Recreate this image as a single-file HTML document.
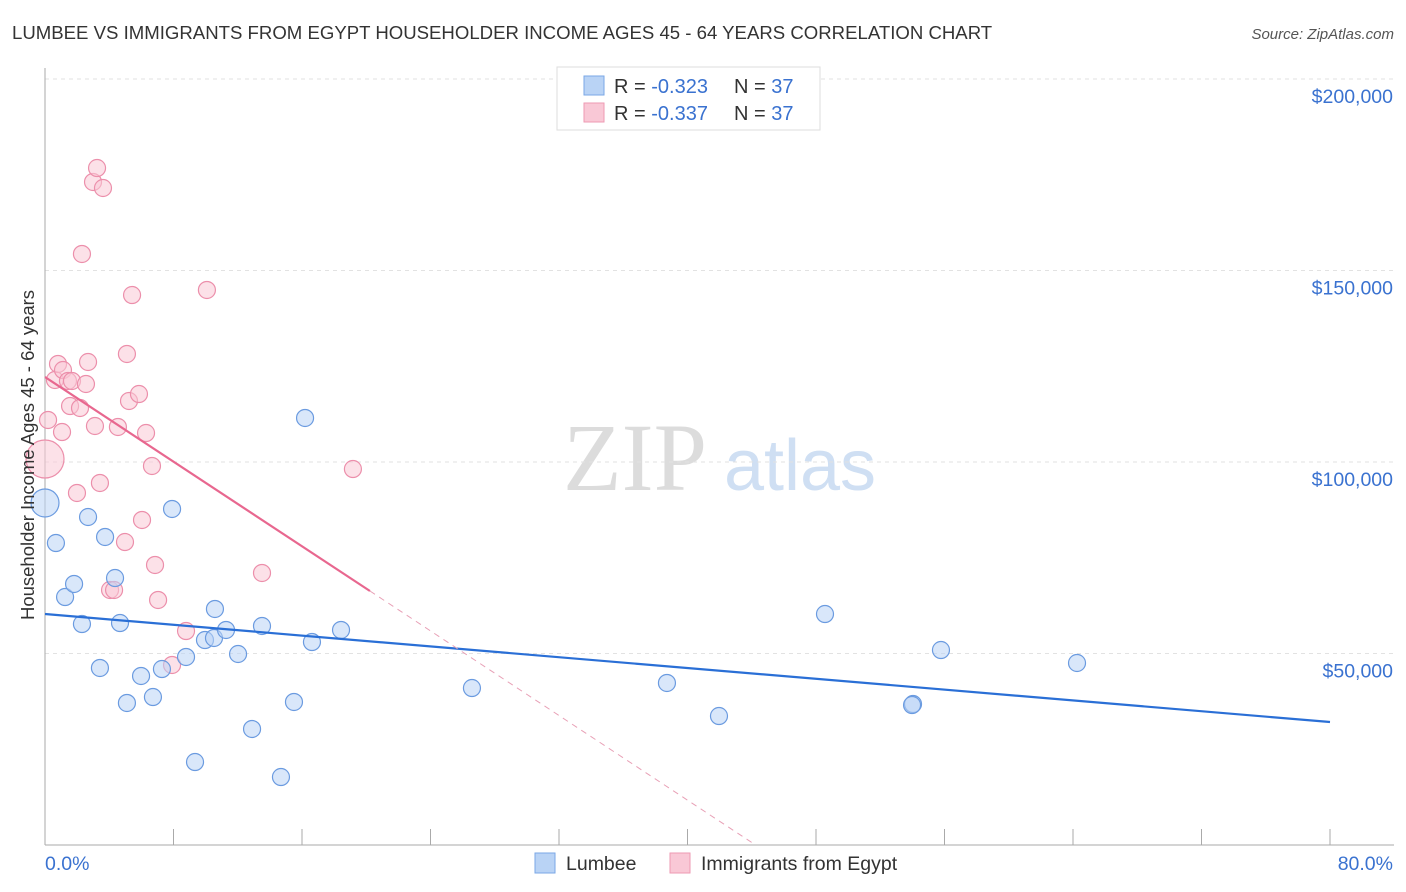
<!DOCTYPE html>
<html><head><meta charset="utf-8"><style>
body{margin:0;background:#fff;font-family:"Liberation Sans",sans-serif}
svg{display:block}
</style></head><body>
<svg id="chart" width="1406" height="892" xmlns="http://www.w3.org/2000/svg">
<text x="12" y="39" font-size="18.6" fill="#333">LUMBEE VS IMMIGRANTS FROM EGYPT HOUSEHOLDER INCOME AGES 45 - 64 YEARS CORRELATION CHART</text>
<text x="1394" y="39" font-size="15" fill="#555" text-anchor="end" font-style="italic">Source: ZipAtlas.com</text>
<g>
<text x="635" y="490" font-size="96" fill="#dcdcdc" text-anchor="middle" font-family="Liberation Serif, serif">ZIP</text>
<text x="800" y="490" font-size="72" fill="#cfdff3" text-anchor="middle">atlas</text>
</g>
<g id="grid"></g>
<g id="axes"></g>
<g id="marks"></g>
<text transform="translate(34,455) rotate(-90)" font-size="18.5" fill="#333" text-anchor="middle">Householder Income Ages 45 - 64 years</text>
<g>
<rect x="557" y="67" width="263" height="63" fill="#fff" stroke="#ddd"/>
<rect x="584" y="76" width="20" height="19" fill="#b9d3f5" stroke="#7aa7e6"/>
<rect x="584" y="103" width="20" height="19" fill="#f9c8d6" stroke="#ee9ab3"/>
<text x="614" y="93" font-size="20" fill="#333">R = <tspan fill="#3a72d0">-0.323</tspan></text>
<text x="734" y="93" font-size="20" fill="#333">N = <tspan fill="#3a72d0">37</tspan></text>
<text x="614" y="120" font-size="20" fill="#333">R = <tspan fill="#3a72d0">-0.337</tspan></text>
<text x="734" y="120" font-size="20" fill="#333">N = <tspan fill="#3a72d0">37</tspan></text>
</g>
<g>
<rect x="535" y="853" width="20" height="20" fill="#b9d3f5" stroke="#7aa7e6"/>
<text x="566" y="870" font-size="19.5" fill="#333">Lumbee</text>
<rect x="670" y="853" width="20" height="20" fill="#f9c8d6" stroke="#ee9ab3"/>
<text x="701" y="870" font-size="19.5" fill="#333">Immigrants from Egypt</text>
</g>
</svg>
<script>
const xTicks=[0,8,16,24,32,40,48,56,64,72,80];
const yTicks=[50000,100000,150000,200000];
const yTickLabels=["$50,000","$100,000","$150,000","$200,000"];
const blueX=[0,0.68,1.25,1.81,2.30,2.68,3.42,3.74,4.36,4.67,5.10,5.98,6.72,7.28,7.91,8.78,9.34,9.96,10.58,10.52,11.27,12.02,12.89,13.51,14.69,15.50,16.19,16.62,18.43,26.58,38.72,41.96,48.56,54.04,53.98,55.78,64.25];
const blueY=[89300,78850,64750,68150,57700,85640,46220,80420,69710,57960,37080,44130,38640,45950,87730,49090,21670,53520,61620,54050,56140,49870,30290,57180,17750,37340,111490,53000,56140,40990,42300,33680,60310,36810,36550,50910,47520];
const pinkX=[0,0.19,0.62,0.81,1.06,1.12,1.43,1.56,1.68,1.99,2.18,2.55,2.68,2.99,3.11,3.24,3.42,3.61,2.30,4.05,4.30,4.54,4.98,5.10,5.23,5.42,5.85,6.04,6.29,6.66,6.85,7.04,7.91,8.78,10.08,13.51,19.17];
const pinkY=[100780,110970,121410,125590,107830,124020,121150,114620,121150,91910,114100,120370,126110,173110,109400,176760,94520,171540,154310,66580,66580,109140,79110,128200,115930,143600,117750,84860,107570,98960,73110,63970,47000,55870,144910,71020,98170];
const blueTrend=[60310,32110];
const pinkTrend=[122190,-2762];
const NS="http://www.w3.org/2000/svg";
const X=v=>45+v*1285/80;
const Y=v=>845-v*191.5/50000;
function mk(parent,tag,attrs){const e=document.createElementNS(NS,tag);for(const k in attrs)e.setAttribute(k,attrs[k]);document.getElementById(parent).appendChild(e);return e;}
yTicks.forEach((t,i)=>{
 const g=mk('grid','line',{x1:45,x2:1394,y1:Y(t),y2:Y(t),stroke:'#e2e2e2','stroke-dasharray':'4,4'});
 
 
 const l=mk('axes','text',{x:1393,y:Y(t)+24,'font-size':19.5,fill:'#3a72d0','text-anchor':'end'});
 l.textContent=yTickLabels[i];
 
 
});
let a=mk('axes','line',{x1:45,x2:45,y1:68,y2:845,stroke:'#aaa'});


a=mk('axes','line',{x1:45,x2:1394,y1:845,y2:845,stroke:'#aaa'});


xTicks.forEach(t=>{const e=mk('axes','line',{x1:X(t),x2:X(t),y1:829,y2:845,stroke:'#aaa'});
 
 });
let tl=mk('axes','text',{x:45,y:870,'font-size':19.5,fill:'#3a72d0'});tl.textContent='0.0%';


tl=mk('axes','text',{x:1393,y:870,'font-size':19.5,fill:'#3a72d0','text-anchor':'end'});tl.textContent='80.0%';


function pts(xs,ys,fill,stroke,big,name){xs.forEach((x,i)=>{
 const c=mk('marks','circle',{cx:X(x),cy:Y(ys[i]),r:i===0?big:8.5,fill:fill,'fill-opacity':0.55,stroke:stroke,'stroke-width':1.2});
 
 
});}
pts(pinkX,pinkY,'#f9c8d6','#ec8fab',19,'egypt-point');
pts(blueX,blueY,'#b9d3f5','#6b9be0',14,'lumbee-point');
let ln=mk('marks','line',{x1:X(0),y1:Y(blueTrend[0]),x2:X(80),y2:Y(blueTrend[1]),stroke:'#2a6fd6','stroke-width':2.2});


const pe=20.23, pz=-pinkTrend[0]/pinkTrend[1];
ln=mk('marks','line',{x1:X(0),y1:Y(pinkTrend[0]),x2:X(pe),y2:Y(pinkTrend[0]+pinkTrend[1]*pe),stroke:'#e8678f','stroke-width':2.2});


ln=mk('marks','line',{x1:X(pe),y1:Y(pinkTrend[0]+pinkTrend[1]*pe),x2:X(pz),y2:Y(0),stroke:'#e8a0b6','stroke-width':1,'stroke-dasharray':'6,5'});


</script>
</body></html>
